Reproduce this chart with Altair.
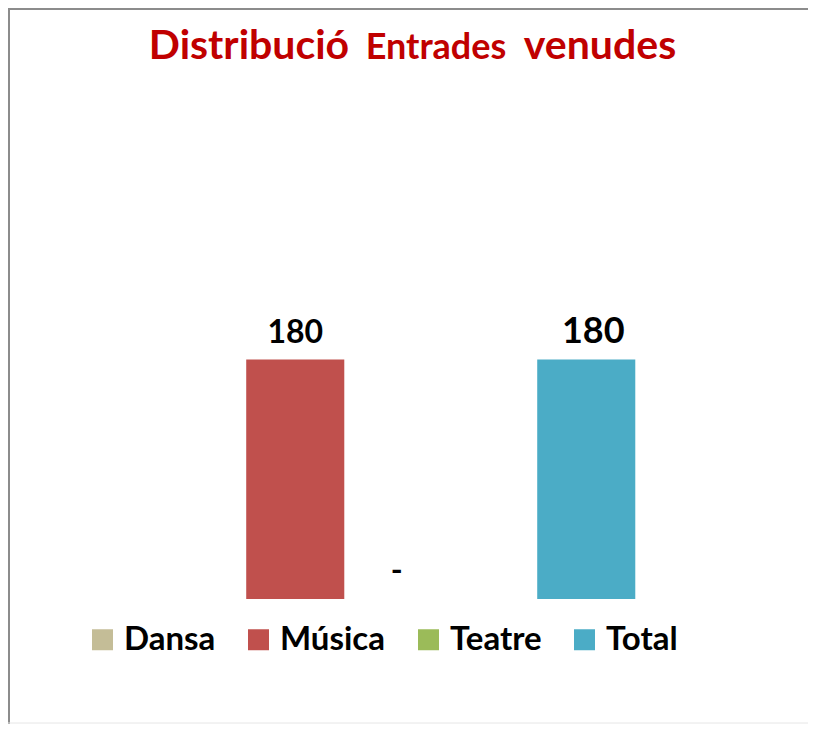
import altair as alt
import pandas as pd

# ---- data ----
categories = ["Dansa", "Música", "Teatre", "Total"]
values = [None, 180, 0, 180]
colors = ["#C4BD97", "#C0504D", "#9BBB59", "#4BACC6"]
title_parts = ["Distribució", "Entrades", "venudes"]

df = pd.DataFrame({"cat": categories, "value": values})

FONT = "Lato"
W, H = 582, 266
PAD_L, PAD_T, PAD_R, PAD_B = 69, 325, 149, 125

base = alt.Chart(df)

x_enc = alt.X("cat:N", sort=categories, axis=None,
              scale=alt.Scale(domain=categories, paddingInner=0.326, paddingOuter=0.163))
y_scale = alt.Scale(domain=[0, 200], nice=False, zero=True)

bars = base.mark_bar().encode(
    x=x_enc,
    y=alt.Y("value:Q", scale=y_scale, axis=None),
    color=alt.Color(
        "cat:N",
        scale=alt.Scale(domain=categories, range=colors),
        legend=alt.Legend(
            title=None, orient="none", direction="horizontal", columns=4,
            legendX=9, legendY=290, padding=0,
            symbolType="square", symbolSize=441, symbolStrokeWidth=0,
            symbolOpacity=1, labelFont=FONT, labelFontSize=33,
            labelFontWeight="bold", labelColor="#000000", labelOffset=5,
            columnPadding=26, labelLimit=300,
        ),
    ),
)

lab_base = base.transform_filter("isValid(datum.value)").transform_calculate(
    label="datum.value == 0 ? '-' : format(datum.value, ',d')"
)

lab_musica = lab_base.transform_filter("datum.cat == 'Música'").mark_text(
    font=FONT, fontSize=32, fontWeight="bold", color="#000000",
    baseline="alphabetic", dy=-17
).encode(x=x_enc, y=alt.Y("value:Q", scale=y_scale), text="label:N")

lab_teatre = lab_base.transform_filter("datum.cat == 'Teatre'").mark_text(
    font=FONT, fontSize=32, fontWeight="bold", color="#000000",
    baseline="alphabetic", dy=-18, dx=-44
).encode(x=x_enc, y=alt.Y("value:Q", scale=y_scale), text="label:N")

lab_total = lab_base.transform_filter("datum.cat == 'Total'").mark_text(
    font=FONT, fontSize=36, fontWeight="bold", color="#000000",
    baseline="alphabetic", dy=-17, dx=7
).encode(x=x_enc, y=alt.Y("value:Q", scale=y_scale), text="label:N")

one = alt.Chart(pd.DataFrame({"t": title_parts}))

t1 = one.transform_filter("datum.t == 'Distribució'").mark_text(
    font=FONT, fontSize=41, fontWeight="bold", color="#C00000",
    align="center", baseline="alphabetic"
).encode(x=alt.value(172), y=alt.value(-274), text="t:N")
t2 = one.transform_filter("datum.t == 'Entrades'").mark_text(
    font=FONT, fontSize=36, fontWeight="bold", color="#C00000",
    align="center", baseline="alphabetic"
).encode(x=alt.value(359), y=alt.value(-274), text="t:N")
t3 = one.transform_filter("datum.t == 'venudes'").mark_text(
    font=FONT, fontSize=41, fontWeight="bold", color="#C00000",
    align="center", baseline="alphabetic"
).encode(x=alt.value(523), y=alt.value(-274), text="t:N")

frame_df = alt.Chart(pd.DataFrame({"t": ["frame"]}))
top_line = frame_df.mark_rule(color="#8c8c8c", strokeWidth=2).encode(
    x=alt.value(-PAD_L), x2=alt.value(W + PAD_R + 20), y=alt.value(-PAD_T + 1))
left_line = frame_df.mark_rule(color="#8c8c8c", strokeWidth=2).encode(
    x=alt.value(-PAD_L + 1), y=alt.value(-PAD_T), y2=alt.value(H + PAD_B))
bottom_line = frame_df.mark_rule(color="#e6e6e6", strokeWidth=1).encode(
    x=alt.value(-PAD_L), x2=alt.value(W + PAD_R + 20), y=alt.value(H + PAD_B - 1))

chart = alt.layer(
    bars, lab_musica, lab_teatre, lab_total, t1, t2, t3, top_line, left_line, bottom_line
).properties(
    width=W, height=H,
    autosize=alt.AutoSizeParams(type="none"),
    padding={"left": PAD_L, "top": PAD_T, "right": PAD_R, "bottom": PAD_B},
    background="white",
).configure_view(stroke=None)

chart.save("out.html", embed_options={"renderer": "svg", "actions": False})
